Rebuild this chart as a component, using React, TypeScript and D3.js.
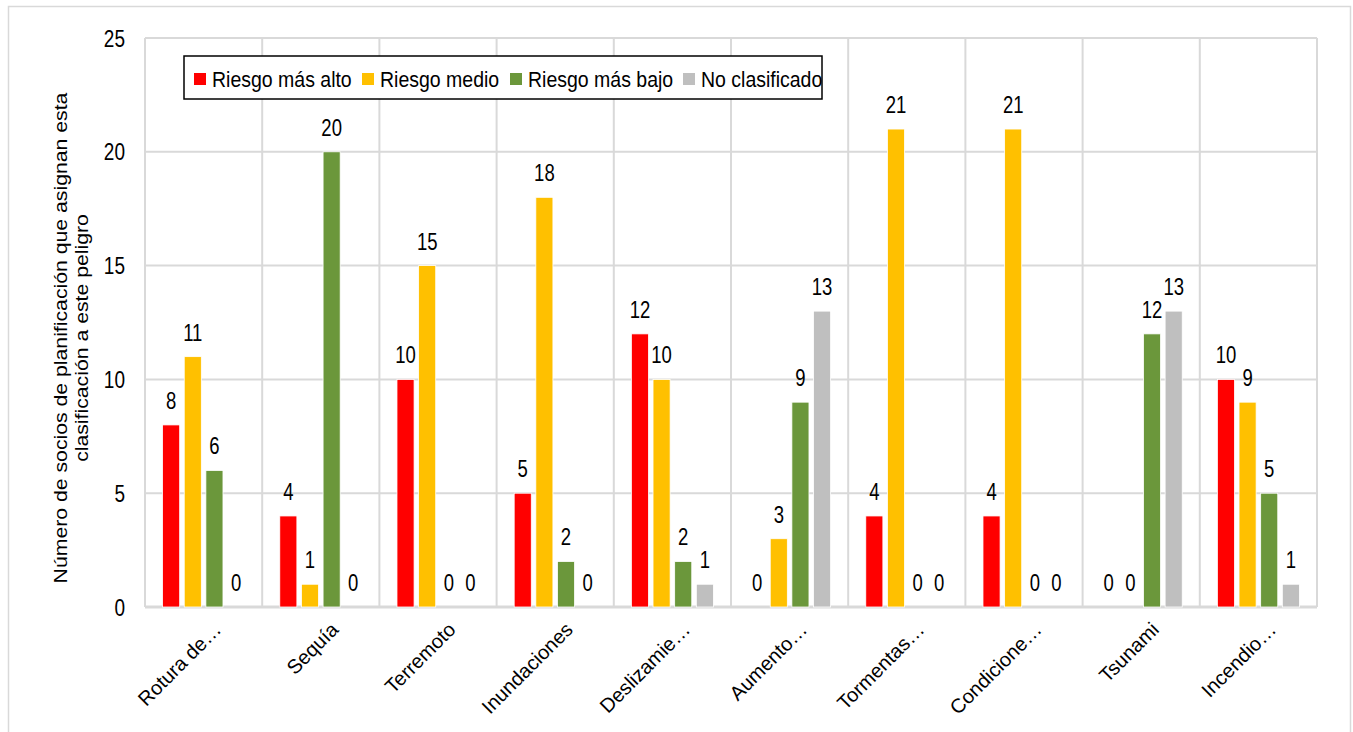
import { useRef, useEffect } from "react";
import * as d3 from "d3";

const categories = [
  "Rotura de…",
  "Sequía",
  "Terremoto",
  "Inundaciones",
  "Deslizamie…",
  "Aumento…",
  "Tormentas…",
  "Condicione…",
  "Tsunami",
  "Incendio…",
];
const seriesNames = ["Riesgo más alto", "Riesgo medio", "Riesgo más bajo", "No clasificado"];
const seriesColors = ["#FF0000", "#FFC000", "#6B973B", "#BFBFBF"];
const riesgoAlto = [8, 4, 10, 5, 12, 0, 4, 4, 0, 10];
const riesgoMedio = [11, 1, 15, 18, 10, 3, 21, 21, 0, 9];
const riesgoBajo = [6, 20, 0, 2, 2, 9, 0, 0, 12, 5];
const noClasificado = [0, 0, 0, 0, 1, 13, 0, 0, 13, 1];
const yTicks = [0, 5, 10, 15, 20, 25];

const W = 1353;
const H = 732;
const FONT = "'Liberation Sans', Arial, sans-serif";

export default function App() {
  const svgRef = useRef<SVGSVGElement | null>(null);

  useEffect(() => {
    const svg = d3.select(svgRef.current);
    svg.selectAll("*").remove();

    const left = 145;
    const right = 1317;
    const top = 38;
    const bottom = 607;

    const series = [riesgoAlto, riesgoMedio, riesgoBajo, noClasificado];

    // outer frame
    svg
      .append("rect")
      .attr("x", 8.5)
      .attr("y", 6.5)
      .attr("width", 1342)
      .attr("height", 740)
      .attr("fill", "#fff")
      .attr("stroke", "#D9D9D9")
      .attr("stroke-width", 1.5);

    const x0 = d3.scaleBand<string>().domain(categories).range([left, right]).paddingInner(0.3).paddingOuter(0.15);
    const x1 = d3
      .scaleBand<number>()
      .domain(d3.range(series.length))
      .range([0, x0.bandwidth()])
      .paddingInner(0.21);
    const y = d3.scaleLinear().domain([0, 25]).range([bottom, top]);

    const catStep = (right - left) / categories.length;

    // grid
    const grid = svg.append("g").attr("stroke", "#D9D9D9").attr("stroke-width", 2);
    yTicks.forEach((t) => {
      grid.append("line").attr("x1", left).attr("x2", right).attr("y1", y(t)).attr("y2", y(t));
    });
    d3.range(categories.length + 1).forEach((i) => {
      const gx = left + i * catStep;
      grid.append("line").attr("x1", gx).attr("x2", gx).attr("y1", top).attr("y2", bottom);
    });
    grid
      .append("line")
      .attr("x1", left)
      .attr("x2", right)
      .attr("y1", bottom)
      .attr("y2", bottom)
      .attr("stroke-width", 3);

    // y tick labels
    svg
      .append("g")
      .selectAll("text")
      .data(yTicks)
      .join("text")
      .attr("transform", (d) => `translate(125,${y(d) + 8.5}) scale(1,1.22)`)
      .attr("text-anchor", "end")
      .attr("font-family", FONT)
      .attr("font-size", 19)
      .attr("fill", "#000")
      .text((d) => d);

    // bars
    categories.forEach((cat, ci) => {
      const g = svg.append("g").attr("transform", `translate(${x0(cat)},0)`);
      series.forEach((vals, si) => {
        const v = vals[ci];
        const bx = x1(si)!;
        if (v > 0) {
          g.append("rect")
            .attr("x", bx)
            .attr("y", y(v))
            .attr("width", x1.bandwidth())
            .attr("height", y(0) - y(v))
            .attr("fill", seriesColors[si])
            .attr("stroke", "#fff")
            .attr("stroke-width", 0.8);
        }
        g.append("text")
          .attr("transform", `translate(${bx + x1.bandwidth() / 2},${y(v) - 16}) scale(1,1.25)`)
          .attr("text-anchor", "middle")
          .attr("font-family", FONT)
          .attr("font-size", 18.5)
          .attr("fill", "#000")
          .text(v);
      });
    });

    // category labels
    svg
      .append("g")
      .selectAll("text")
      .data(categories)
      .join("text")
      .attr("transform", (d) => `translate(${x0(d)! + x0.bandwidth() / 2 + 9},${bottom + 14}) rotate(-45)`)
      .attr("text-anchor", "end")
      .attr("dy", "0.7em")
      .attr("font-family", FONT)
      .attr("font-size", 20)
      .attr("fill", "#000")
      .text((d) => d);

    // y axis title
    const title = svg
      .append("text")
      .attr("transform", `translate(71,338) scale(1,1.18) rotate(-90)`)
      .attr("text-anchor", "middle")
      .attr("font-family", FONT)
      .attr("font-size", 18)
      .attr("fill", "#000");
    title.append("tspan").attr("x", 0).attr("dy", "-0.25em").text("Número de socios de planificación que asignan esta");
    title.append("tspan").attr("x", 0).attr("dy", "1.2em").text("clasificación a este peligro");

    // legend
    const lg = svg.append("g").attr("transform", "translate(184,56)");
    lg.append("rect")
      .attr("width", 638)
      .attr("height", 43)
      .attr("fill", "#fff")
      .attr("stroke", "#000")
      .attr("stroke-width", 1.5);
    const itemX = [10, 178, 326, 499];
    seriesNames.forEach((name, i) => {
      lg.append("rect")
        .attr("x", itemX[i])
        .attr("y", 17)
        .attr("width", 12)
        .attr("height", 12)
        .attr("fill", seriesColors[i]);
      lg.append("text")
        .attr("transform", `translate(${itemX[i] + 18},31) scale(1,1.12)`)
        .attr("font-family", FONT)
        .attr("font-size", 19.5)
        .attr("fill", "#000")
        .text(name);
    });
  }, []);

  return (
    <svg
      ref={svgRef}
      width={W}
      height={H}
      style={{ position: "absolute", left: 0, top: 0, background: "#fff" }}
    />
  );
}
